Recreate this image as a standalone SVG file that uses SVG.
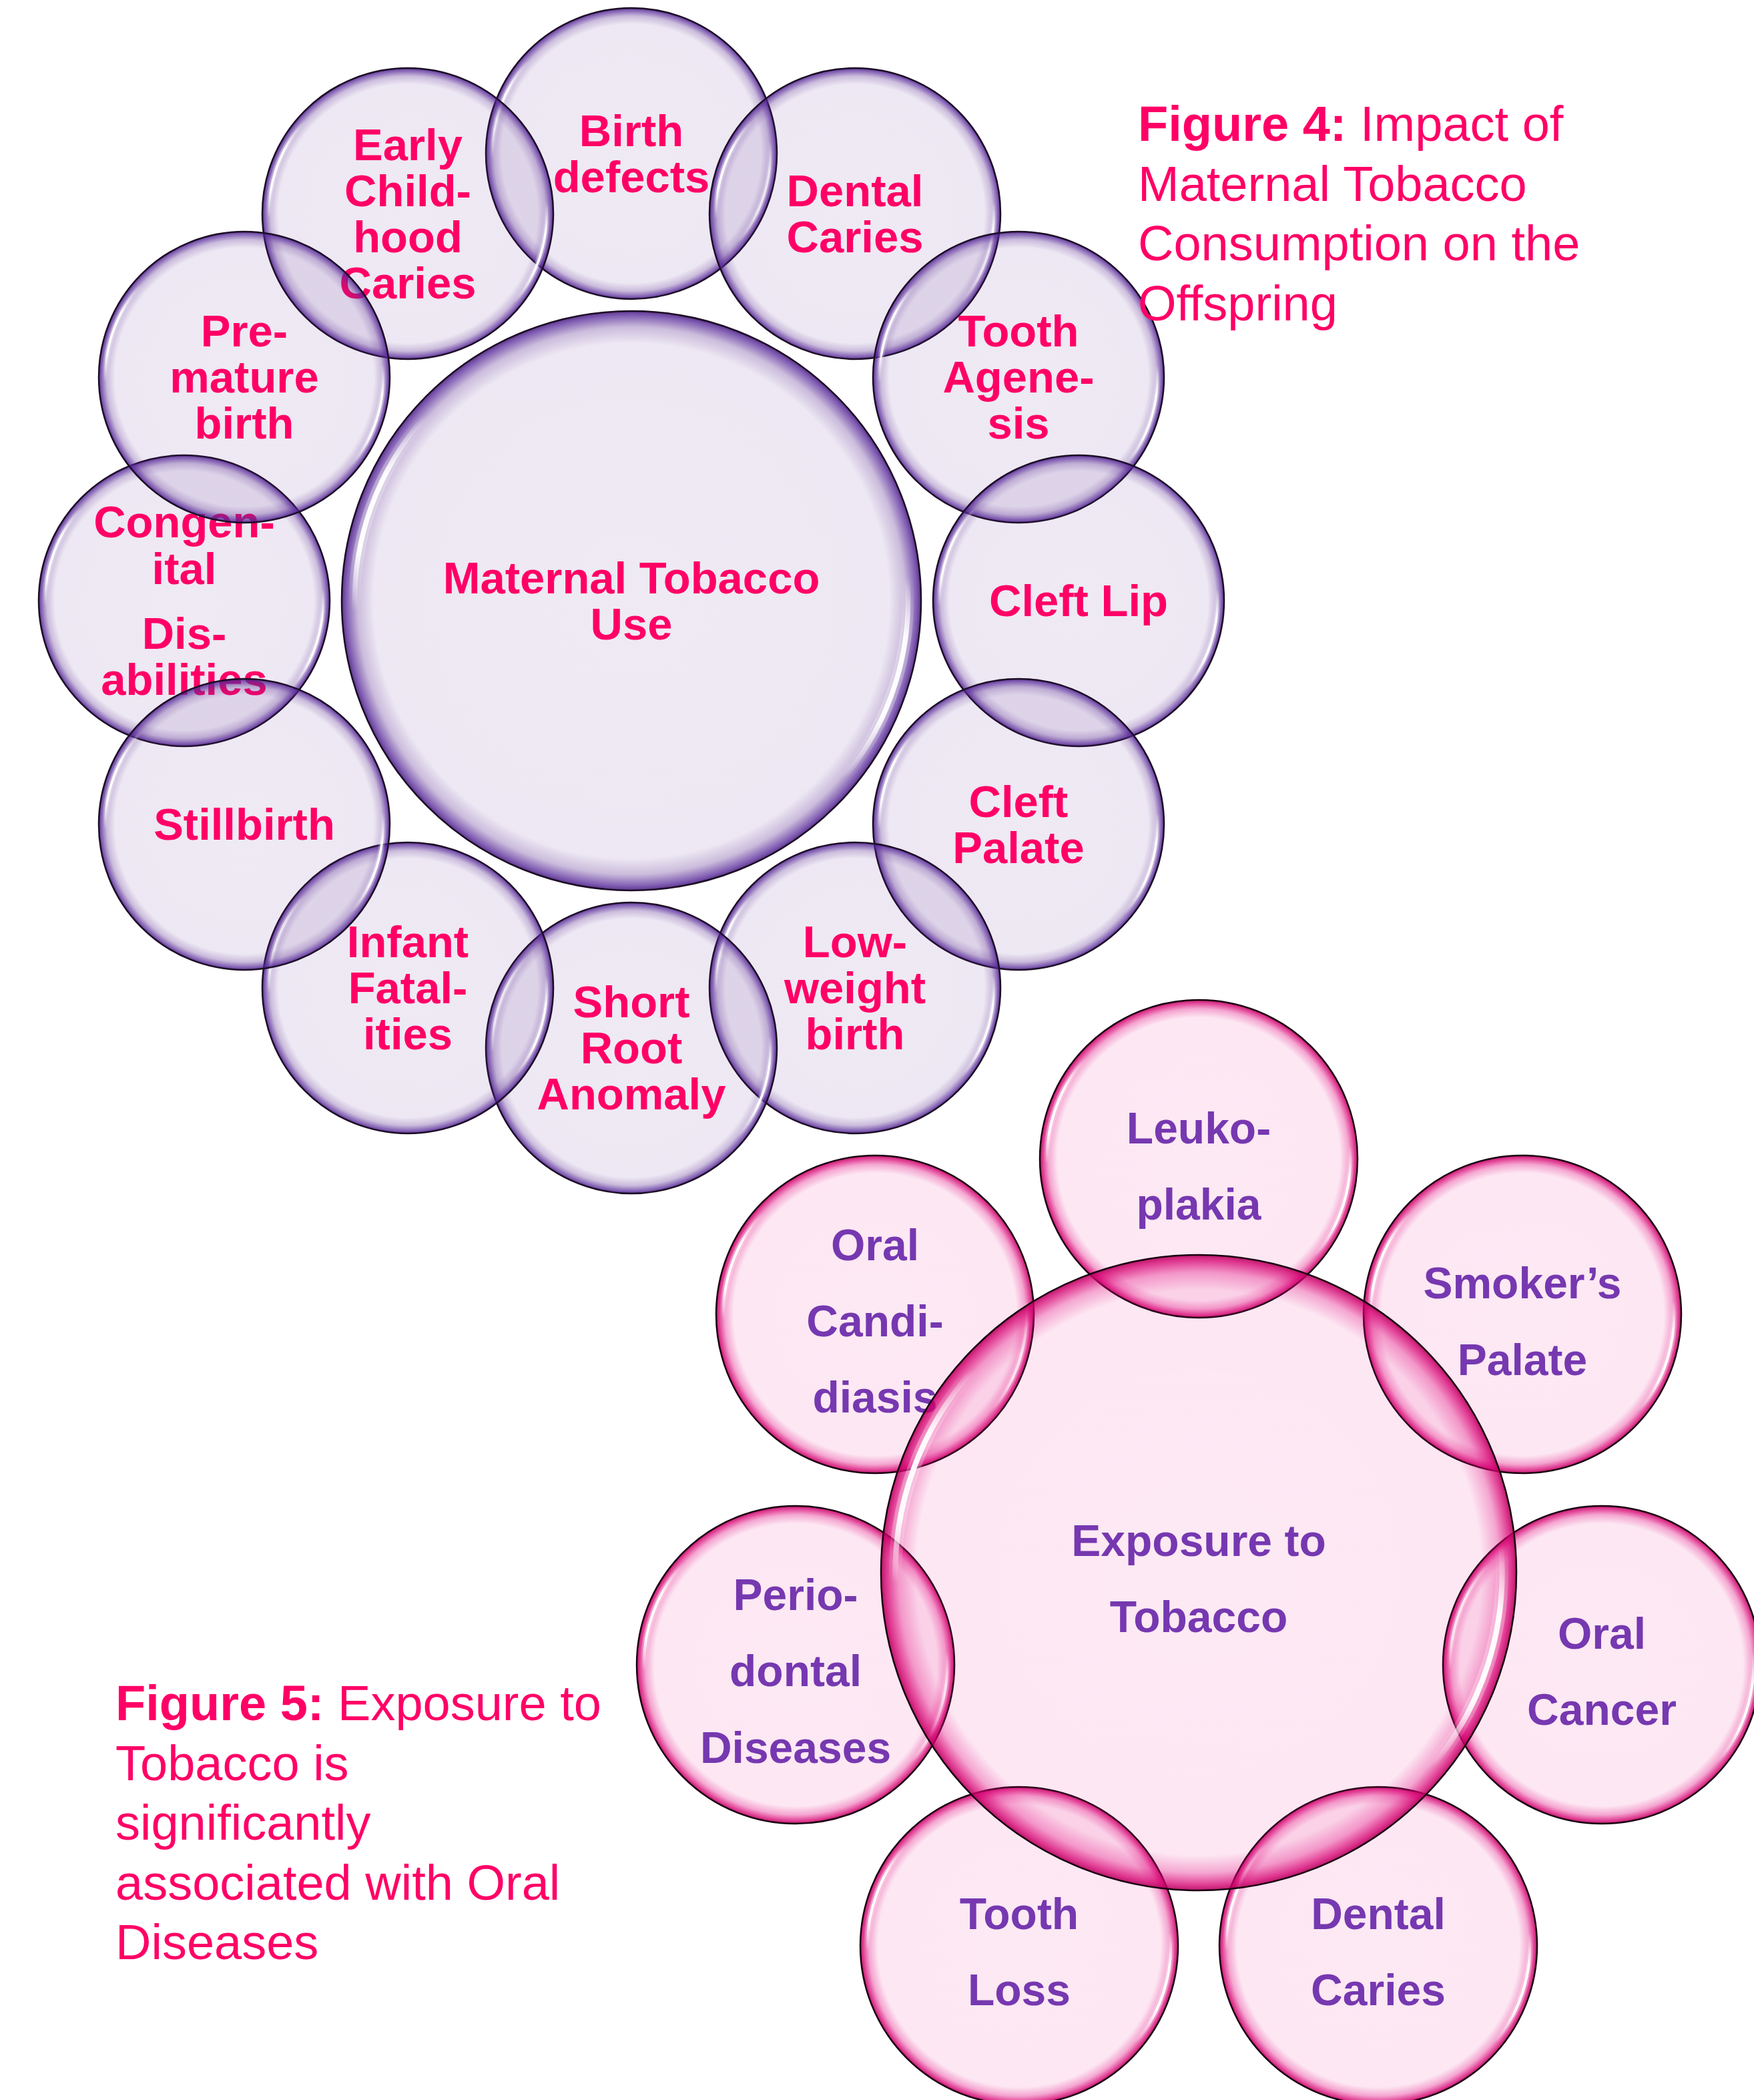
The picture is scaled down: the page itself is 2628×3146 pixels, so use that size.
<svg xmlns="http://www.w3.org/2000/svg" xmlns:xlink="http://www.w3.org/1999/xlink" width="2628" height="3146" viewBox="0 0 2628 3146">
<style>
.tp{font-family:"Liberation Sans",Arial,sans-serif;font-weight:bold;font-size:67px;fill:#FF0066;text-anchor:middle}
.tb{font-family:"Liberation Sans",Arial,sans-serif;font-weight:bold;font-size:66px;fill:#7638B0;text-anchor:middle}
.ttl{font-family:"Liberation Sans",Arial,sans-serif;font-size:74px;fill:#FF0066}
.ttl .b{font-weight:bold}
.hl{fill:none;stroke:url(#hlg);stroke-width:0.017;stroke-linecap:round}
.hlw{fill:none;stroke:url(#hlg);stroke-width:0.04;stroke-linecap:round;opacity:0.3}
</style>
<defs>
<radialGradient id="gP" cx="0.5" cy="0.5" r="0.5">
<stop offset="0" stop-color="#5B2C91" stop-opacity="0.10"/>
<stop offset="0.89" stop-color="#5B2C91" stop-opacity="0.11"/>
<stop offset="0.945" stop-color="#5B2C91" stop-opacity="0.32"/>
<stop offset="0.985" stop-color="#56279A" stop-opacity="0.75"/>
<stop offset="1" stop-color="#45197A" stop-opacity="0.88"/>
</radialGradient>
<radialGradient id="gK" cx="0.5" cy="0.5" r="0.5">
<stop offset="0" stop-color="#E5007D" stop-opacity="0.085"/>
<stop offset="0.89" stop-color="#E5007D" stop-opacity="0.095"/>
<stop offset="0.945" stop-color="#E0007A" stop-opacity="0.35"/>
<stop offset="0.985" stop-color="#D4006F" stop-opacity="0.78"/>
<stop offset="1" stop-color="#B0005A" stop-opacity="0.9"/>
</radialGradient>
<linearGradient id="hlg" x1="0" y1="0" x2="0" y2="1">
<stop offset="0" stop-color="#FFFFFF" stop-opacity="0"/>
<stop offset="0.3" stop-color="#FFFFFF" stop-opacity="0.95"/>
<stop offset="0.7" stop-color="#FFFFFF" stop-opacity="0.95"/>
<stop offset="1" stop-color="#FFFFFF" stop-opacity="0"/>
</linearGradient>
<g id="bubP">
<circle r="1" fill="url(#gP)" stroke="#1B0D24" stroke-width="2.5" vector-effect="non-scaling-stroke"/>
<path class="hlw" d="M -0.9544 0.0333 A 0.955 0.955 0 0 1 -0.7097 -0.6390"/>
<path class="hl" d="M -0.9544 0.0333 A 0.955 0.955 0 0 1 -0.7097 -0.6390"/>
<path class="hlw" d="M 0.9514 -0.0832 A 0.955 0.955 0 0 1 0.7316 0.6139"/>
<path class="hl" d="M 0.9514 -0.0832 A 0.955 0.955 0 0 1 0.7316 0.6139"/>
</g>
<g id="bubK">
<circle r="1" fill="url(#gK)" stroke="#1A0010" stroke-width="2.5" vector-effect="non-scaling-stroke"/>
<path class="hlw" d="M -0.9544 0.0333 A 0.955 0.955 0 0 1 -0.7097 -0.6390"/>
<path class="hl" d="M -0.9544 0.0333 A 0.955 0.955 0 0 1 -0.7097 -0.6390"/>
<path class="hlw" d="M 0.9514 -0.0832 A 0.955 0.955 0 0 1 0.7316 0.6139"/>
<path class="hl" d="M 0.9514 -0.0832 A 0.955 0.955 0 0 1 0.7316 0.6139"/>
</g>
</defs>
<rect width="2628" height="3146" fill="#FFFFFF"/>
<g id="connectors"/>

<!-- Figure 4 -->
<g id="fig4-center">
<use xlink:href="#bubP" href="#bubP" transform="translate(946 900) scale(434)"/>
<text class="tp"><tspan x="946" y="889">Maternal Tobacco</tspan><tspan x="946" y="958">Use</tspan></text>
</g>
<g id="fig4-birth-defects">
<use xlink:href="#bubP" href="#bubP" transform="translate(946 230) scale(218)"/>
<text class="tp"><tspan x="946" y="219">Birth</tspan><tspan x="946" y="288">defects</tspan></text>
</g>
<g id="fig4-dental-caries">
<use xlink:href="#bubP" href="#bubP" transform="translate(1281 320) scale(218)"/>
<text class="tp"><tspan x="1281" y="309">Dental</tspan><tspan x="1281" y="378">Caries</tspan></text>
</g>
<g id="fig4-tooth-agenesis">
<use xlink:href="#bubP" href="#bubP" transform="translate(1526 565) scale(218)"/>
<text class="tp"><tspan x="1526" y="519">Tooth</tspan><tspan x="1526" y="588">Agene-</tspan><tspan x="1526" y="657">sis</tspan></text>
</g>
<g id="fig4-cleft-lip">
<use xlink:href="#bubP" href="#bubP" transform="translate(1616 900) scale(218)"/>
<text class="tp" x="1616" y="923">Cleft Lip</text>
</g>
<g id="fig4-cleft-palate">
<use xlink:href="#bubP" href="#bubP" transform="translate(1526 1235) scale(218)"/>
<text class="tp"><tspan x="1526" y="1224">Cleft</tspan><tspan x="1526" y="1293">Palate</tspan></text>
</g>
<g id="fig4-low-weight-birth">
<use xlink:href="#bubP" href="#bubP" transform="translate(1281 1480) scale(218)"/>
<text class="tp"><tspan x="1281" y="1434">Low-</tspan><tspan x="1281" y="1503">weight</tspan><tspan x="1281" y="1572">birth</tspan></text>
</g>
<g id="fig4-short-root-anomaly">
<use xlink:href="#bubP" href="#bubP" transform="translate(946 1570) scale(218)"/>
<text class="tp"><tspan x="946" y="1524">Short</tspan><tspan x="946" y="1593">Root</tspan><tspan x="946" y="1662">Anomaly</tspan></text>
</g>
<g id="fig4-infant-fatalities">
<use xlink:href="#bubP" href="#bubP" transform="translate(611 1480) scale(218)"/>
<text class="tp"><tspan x="611" y="1434">Infant</tspan><tspan x="611" y="1503">Fatal-</tspan><tspan x="611" y="1572">ities</tspan></text>
</g>
<g id="fig4-early-childhood-caries">
<use xlink:href="#bubP" href="#bubP" transform="translate(611 320) scale(218)"/>
<text class="tp"><tspan x="611" y="240">Early</tspan><tspan x="611" y="309">Child-</tspan><tspan x="611" y="378">hood</tspan><tspan x="611" y="447">Caries</tspan></text>
</g>
<g id="fig4-congenital-disabilities">
<use xlink:href="#bubP" href="#bubP" transform="translate(276 900) scale(218)"/>
<text class="tp"><tspan x="276" y="805">Congen-</tspan><tspan x="276" y="875">ital</tspan><tspan x="276" y="972">Dis-</tspan><tspan x="276" y="1041">abilities</tspan></text>
</g>
<g id="fig4-premature-birth">
<use xlink:href="#bubP" href="#bubP" transform="translate(366 565) scale(218)"/>
<text class="tp"><tspan x="366" y="519">Pre-</tspan><tspan x="366" y="588">mature</tspan><tspan x="366" y="657">birth</tspan></text>
</g>
<g id="fig4-stillbirth">
<use xlink:href="#bubP" href="#bubP" transform="translate(366 1235) scale(218)"/>
<text class="tp" x="366" y="1258">Stillbirth</text>
</g>

<g id="fig4-title">
<text class="ttl"><tspan x="1705" y="211"><tspan class="b">Figure 4:</tspan> Impact of</tspan><tspan x="1705" y="301">Maternal Tobacco</tspan><tspan x="1705" y="390">Consumption on the</tspan><tspan x="1705" y="480">Offspring</tspan></text>
</g>

<!-- Figure 5 -->
<g id="fig5-leukoplakia">
<use xlink:href="#bubK" href="#bubK" transform="translate(1796 1736) scale(238)"/>
<text class="tb"><tspan x="1796" y="1713">Leuko-</tspan><tspan x="1796" y="1827">plakia</tspan></text>
</g>
<g id="fig5-smokers-palate">
<use xlink:href="#bubK" href="#bubK" transform="translate(2281 1969) scale(238)"/>
<text class="tb"><tspan x="2281" y="1945">Smoker’s</tspan><tspan x="2281" y="2060">Palate</tspan></text>
</g>
<g id="fig5-oral-cancer">
<use xlink:href="#bubK" href="#bubK" transform="translate(2400 2494) scale(238)"/>
<text class="tb"><tspan x="2400" y="2470">Oral</tspan><tspan x="2400" y="2584">Cancer</tspan></text>
</g>
<g id="fig5-dental-caries">
<use xlink:href="#bubK" href="#bubK" transform="translate(2065 2915) scale(238)"/>
<text class="tb"><tspan x="2065" y="2890">Dental</tspan><tspan x="2065" y="3004">Caries</tspan></text>
</g>
<g id="fig5-tooth-loss">
<use xlink:href="#bubK" href="#bubK" transform="translate(1527 2915) scale(238)"/>
<text class="tb"><tspan x="1527" y="2890">Tooth</tspan><tspan x="1527" y="3004">Loss</tspan></text>
</g>
<g id="fig5-periodontal-diseases">
<use xlink:href="#bubK" href="#bubK" transform="translate(1192 2494) scale(238)"/>
<text class="tb"><tspan x="1192" y="2412">Perio-</tspan><tspan x="1192" y="2526">dontal</tspan><tspan x="1192" y="2641">Diseases</tspan></text>
</g>
<g id="fig5-oral-candidiasis">
<use xlink:href="#bubK" href="#bubK" transform="translate(1311 1969) scale(238)"/>
<text class="tb"><tspan x="1311" y="1888">Oral</tspan><tspan x="1311" y="2002">Candi-</tspan><tspan x="1311" y="2116">diasis</tspan></text>
</g>
<g id="fig5-center">
<use xlink:href="#bubK" href="#bubK" transform="translate(1796 2356) scale(476)"/>
<text class="tb"><tspan x="1796" y="2331">Exposure to</tspan><tspan x="1796" y="2445">Tobacco</tspan></text>
</g>

<g id="fig5-title">
<text class="ttl"><tspan x="173" y="2577"><tspan class="b">Figure 5:</tspan> Exposure to</tspan><tspan x="173" y="2667">Tobacco is</tspan><tspan x="173" y="2756">significantly</tspan><tspan x="173" y="2846">associated with Oral</tspan><tspan x="173" y="2935">Diseases</tspan></text>
</g>
</svg>
